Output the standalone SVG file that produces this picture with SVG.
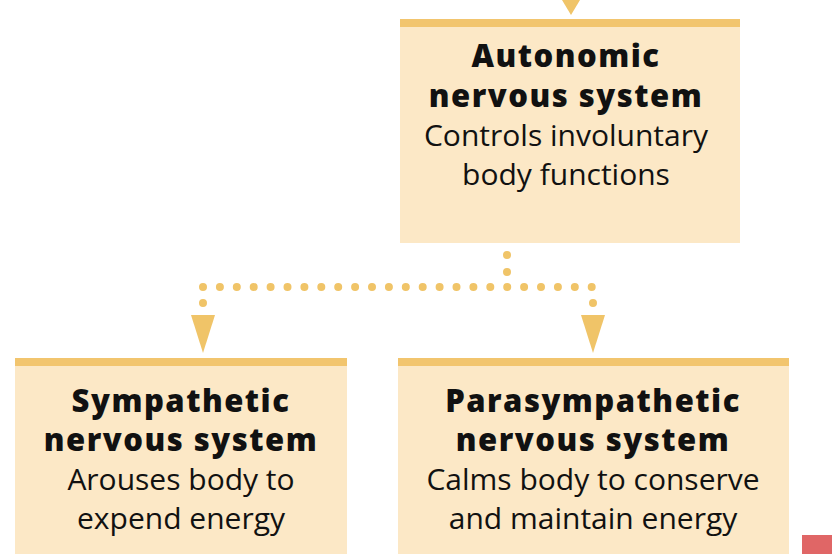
<svg xmlns="http://www.w3.org/2000/svg" width="832" height="554" viewBox="0 0 832 554">
<style>
.box{fill:#fce8c6}.bar{fill:#f2c56e}
.t{font-family:"Open Sans","Liberation Sans",sans-serif;font-size:30px;fill:#111;text-anchor:middle}
.b{font-weight:800;font-size:31px;letter-spacing:1.5px}
.d{fill:#f0c468}
</style>
<rect width="832" height="554" fill="#fff"/>
<g id="autonomic">
<rect class="box" x="400" y="19" width="340" height="224"/>
<rect class="bar" x="400" y="19" width="340" height="8"/>
<text class="t b" x="566" y="67">Autonomic</text>
<text class="t b" x="566" y="107">nervous system</text>
<text class="t" x="566" y="146">Controls involuntary</text>
<text class="t" x="566" y="185">body functions</text>
</g>
<g id="sympathetic">
<rect class="box" x="15" y="358" width="332" height="196"/>
<rect class="bar" x="15" y="358" width="332" height="8"/>
<text class="t b" x="181" y="412">Sympathetic</text>
<text class="t b" x="181" y="451">nervous system</text>
<text class="t" x="181" y="490">Arouses body to</text>
<text class="t" x="181" y="529">expend energy</text>
</g>
<g id="parasympathetic">
<rect class="box" x="398" y="358" width="391" height="196"/>
<rect class="bar" x="398" y="358" width="391" height="8"/>
<text class="t b" x="593" y="412">Parasympathetic</text>
<text class="t b" x="593" y="451">nervous system</text>
<text class="t" x="593" y="490">Calms body to conserve</text>
<text class="t" x="593" y="529">and maintain energy</text>
</g>
<g id="connectors">
<polygon class="d" points="562,0 580,0 571,15"/>
<path d="M507,255V287M203,287H593M203,303V304M593,303V304" stroke="#f0c468" stroke-width="8" stroke-linecap="round" stroke-dasharray="0 16.9" fill="none"/>
<polygon class="d" points="191,315 215,315 203,353"/>
<polygon class="d" points="581,315 605,315 593,353"/>
</g>
<rect x="802" y="535" width="30" height="19" fill="#e06666"/>
</svg>
